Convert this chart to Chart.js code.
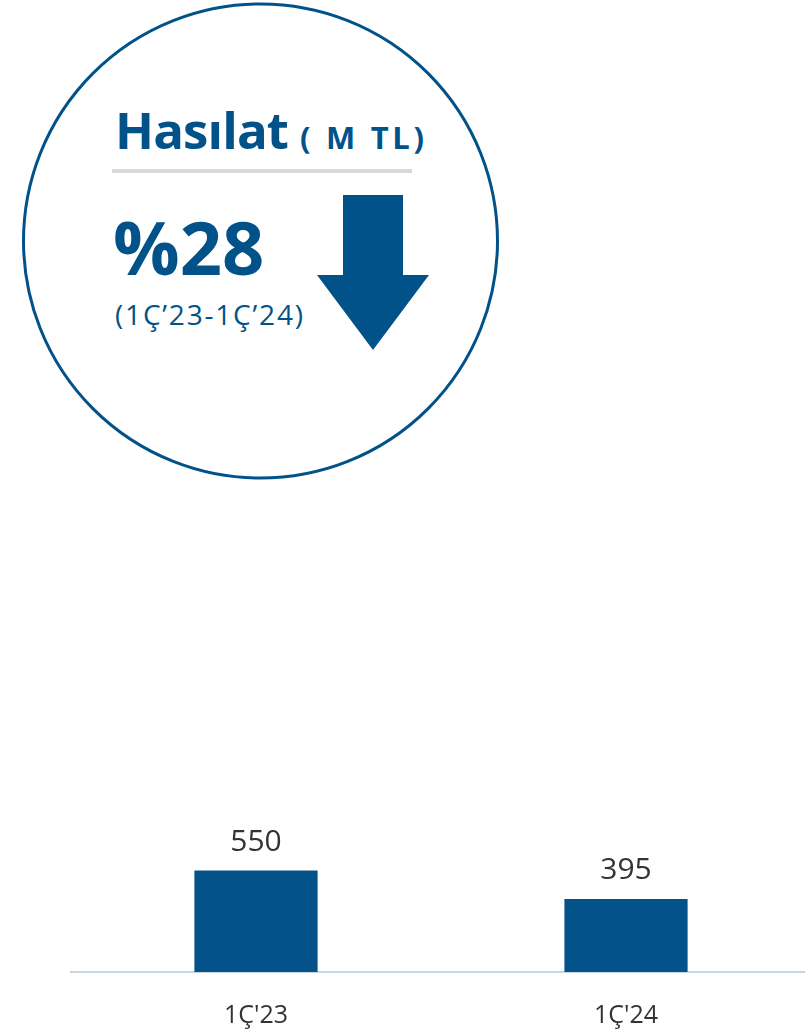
<!DOCTYPE html>
<html>
<head>
<meta charset="utf-8">
<script src="https://cdn.jsdelivr.net/npm/chart.js@4"></script>
<style>
  html, body { margin: 0; padding: 0; background: #fff; overflow: hidden; width: 805px; height: 1035px; }
  #badge { position: absolute; left: 0; top: 0; }
  #chart { position: absolute; left: 0; top: 603px; }
</style>
</head>
<body>
<svg id="badge" width="520" height="490" xmlns="http://www.w3.org/2000/svg">
  <circle cx="260.5" cy="241" r="237" fill="none" stroke="#02528a" stroke-width="3"/>
  <text x="115" y="149" font-family="Open Sans" font-weight="bold" font-size="51" textLength="174" lengthAdjust="spacing" fill="#02528a">Hasılat</text>
  <text x="300" y="149" font-family="Open Sans" font-weight="bold" font-size="31" textLength="124" lengthAdjust="spacing" fill="#02528a">( M TL)</text>
  <rect x="112" y="169" width="300" height="4" fill="#d9d9d9"/>
  <text x="113" y="275" font-family="Open Sans" font-weight="bold" font-size="74" fill="#02528a">%28</text>
  <text x="115" y="325" font-family="Open Sans" font-size="28" textLength="188" lengthAdjust="spacing" fill="#02528a">(1Ç’23-1Ç’24)</text>
  <polygon points="343,195 403,195 403,275 429,275 373,350 317,275 343,275" fill="#02528a"/>
</svg>
<canvas id="chart" width="811" height="467"></canvas>
<script>
const categories = ["1Ç'23", "1Ç'24"];
const revenue = [550, 395];
const yMax = 2000;

const valueLabels = {
  id: 'valueLabels',
  afterDatasetsDraw(chart) {
    const ctx = chart.ctx;
    const meta = chart.getDatasetMeta(0);
    ctx.save();
    ctx.font = '30px "Open Sans"';
    ctx.fillStyle = '#333333';
    ctx.textAlign = 'center';
    ctx.textBaseline = 'alphabetic';
    meta.data.forEach((bar, i) => {
      ctx.fillText(String(revenue[i]), bar.x, bar.y - 20);
    });
    ctx.restore();
  }
};

new Chart(document.getElementById('chart'), {
  type: 'bar',
  data: {
    labels: categories,
    datasets: [{
      data: revenue,
      backgroundColor: '#03528a',
      categoryPercentage: 1,
      barPercentage: 0.333
    }]
  },
  options: {
    responsive: false,
    animation: false,
    layout: { padding: { left: 71, right: 0, top: 0, bottom: 10 } },
    plugins: { legend: { display: false }, tooltip: { enabled: false } },
    scales: {
      x: {
        grid: { display: false, drawTicks: false },
        border: { display: true, color: '#c9d5e1', width: 2 },
        ticks: { color: '#333333', font: { family: 'Open Sans', size: 25 }, padding: 29 }
      },
      y: { display: false, min: 0, max: yMax }
    }
  },
  plugins: [valueLabels]
});
</script>
</body>
</html>
